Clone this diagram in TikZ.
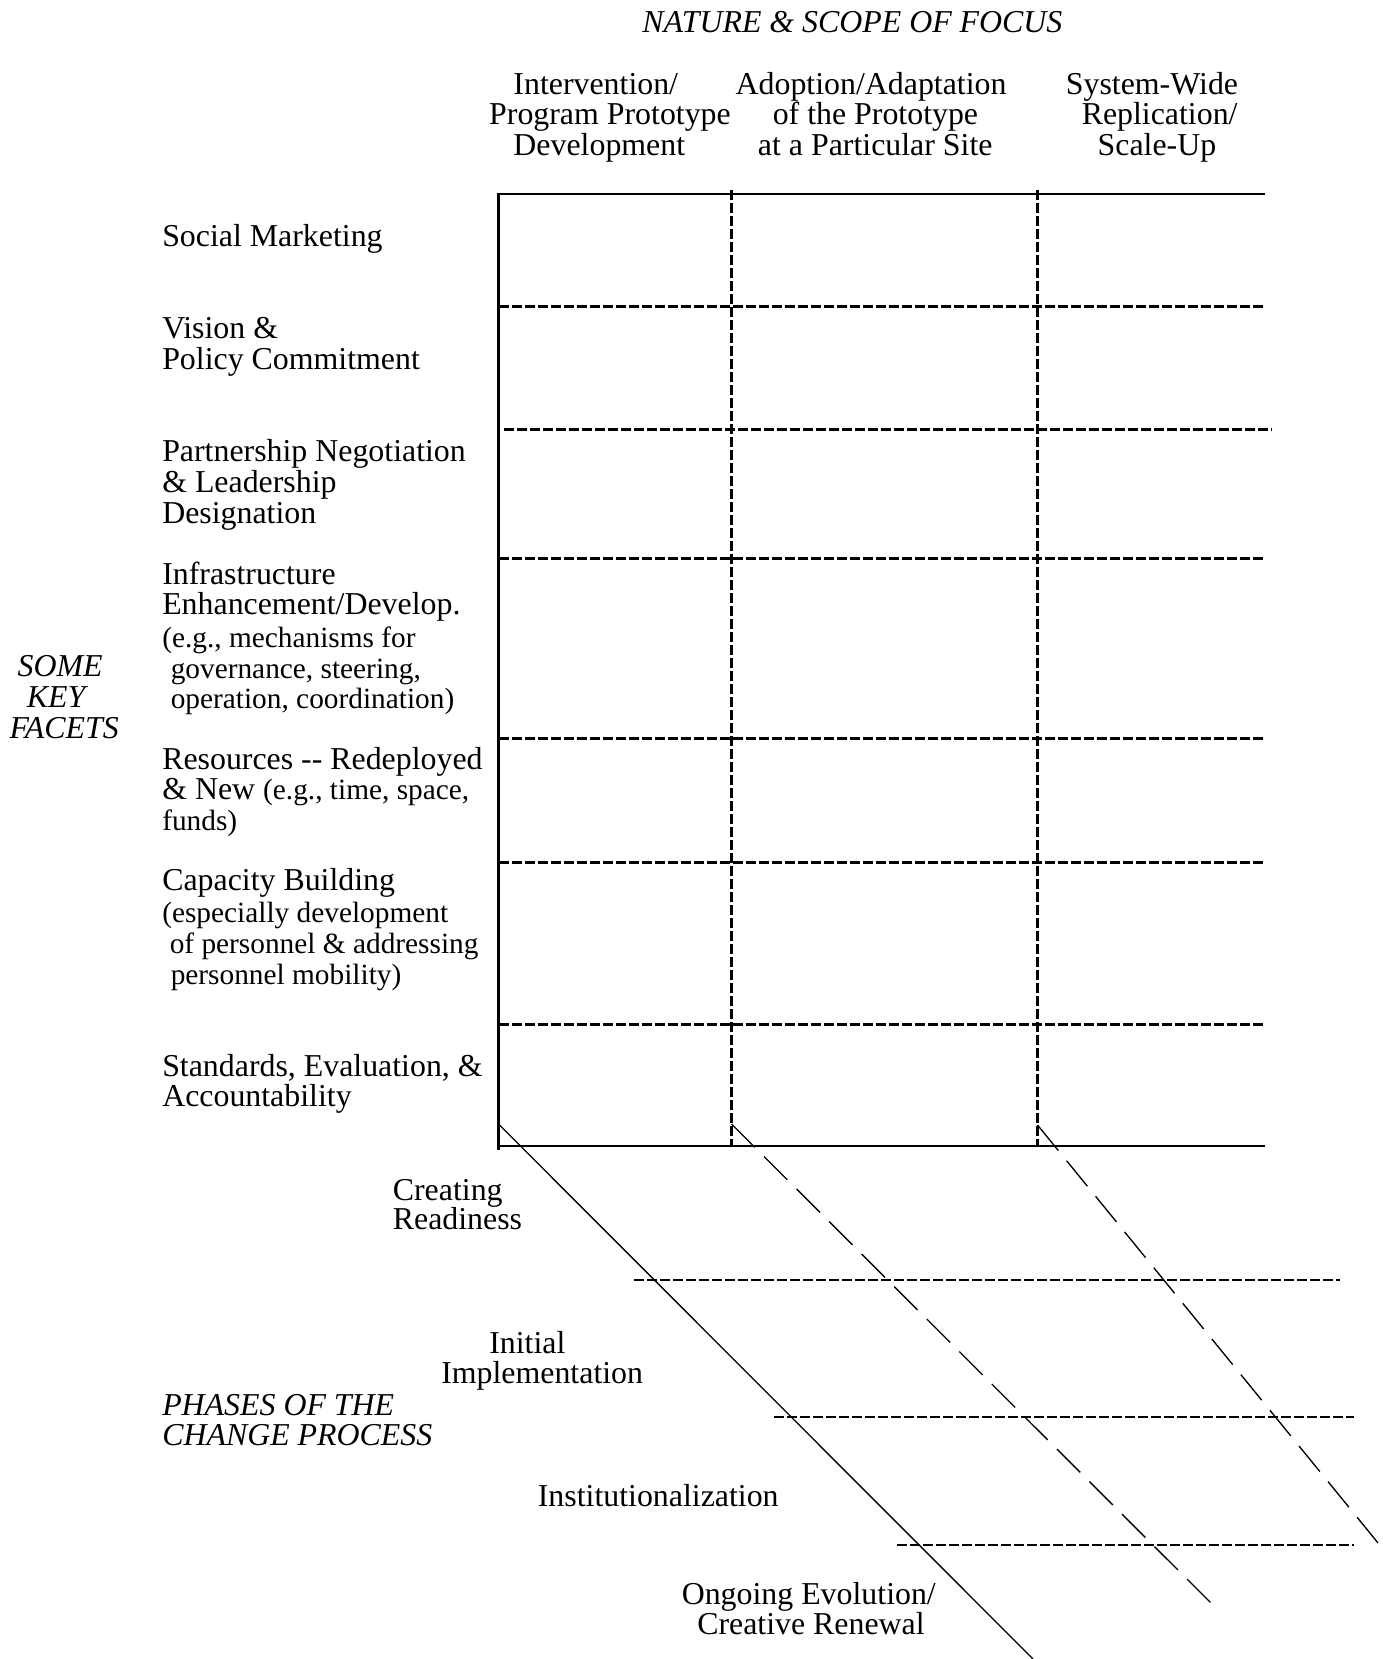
\documentclass[tikz,border=0pt]{standalone}
\usepackage{fontspec}
\setmainfont{Liberation Serif}
\begin{document}
\begin{tikzpicture}[x=0.75pt,y=-0.75pt,
  big/.style={font=\fontsize{23.9}{24}\selectfont, inner sep=0pt, anchor=base west},
  small/.style={font=\fontsize{22}{22}\selectfont, inner sep=0pt, anchor=base west},
  ital/.style={font=\fontsize{23.9}{24}\selectfont\itshape, inner sep=0pt, anchor=base west},
  frame/.style={line width=1.8pt},
  griddash/.style={line width=1.9pt, dash pattern=on 7.5pt off 2.25pt},
  phasedash/.style={line width=1.5pt, dash pattern=on 7.5pt off 2.25pt},
  diagsolid/.style={line width=1pt},
  diagdash/.style={line width=1pt, dash pattern=on 24.75pt off 9.75pt}]
\useasboundingbox (0,0) rectangle (1382,1659);
% frame
\coordinate (TL) at (498.5,194);
\coordinate (TR) at (1265,194);
\coordinate (LB) at (498.5,1150);
\coordinate (BL) at (498.5,1146);
\coordinate (BR) at (1265,1146);
\draw[frame] (TR) -- (TL) -- (LB);
\draw[frame] (BL) -- (BR);
% vertical dashed
\coordinate (V1t) at (731.5,190); \coordinate (V1b) at (731.5,1146);
\coordinate (V2t) at (1037.5,190); \coordinate (V2b) at (1037.5,1146);
\draw[griddash] (V1t) -- (V1b);
\draw[griddash] (V2t) -- (V2b);
% horizontal dashed grid
\foreach \y/\a/\b [count=\i] in {306.5/498.5/1265, 429.5/504/1272, 558.5/498.5/1265, 738.5/498.5/1265, 862.5/498.5/1265, 1024.5/498.5/1265}{
  \coordinate (H\i a) at (\a,\y); \coordinate (H\i b) at (\b,\y);
  \draw[griddash] (H\i a) -- (H\i b);
}
% diagonals
\coordinate (D0s) at (498.5,1124); \coordinate (D0e) at (1033,1659);
\coordinate (D1s) at (731.5,1124); \coordinate (D1e) at (1219,1611);
\coordinate (D2s) at (1037.5,1125); \coordinate (D2e) at (1380.5,1546);
\draw[diagsolid] (D0s) -- (D0e);
\draw[diagdash] (D1s) -- (D1e);
\draw[diagdash] (D2s) -- (D2e);
% phase dashed lines
\coordinate (P1a) at (634,1280); \coordinate (P1b) at (1340,1280);
\coordinate (P2a) at (774,1416.5); \coordinate (P2b) at (1354,1416.5);
\coordinate (P3a) at (897,1544.5); \coordinate (P3b) at (1354,1544.5);
\draw[phasedash] (P1a) -- (P1b);
\draw[phasedash] (P2a) -- (P2b);
\draw[phasedash] (P3a) -- (P3b);
% title
\node[ital] (title) at (642,33) {NATURE \& SCOPE OF FOCUS};
% column headers
\node[big] (c1a) at (513.2,94) {Intervention/};
\node[big] (c1b) at (488.9,124.5) {Program Prototype};
\node[big] (c1c) at (513.2,155) {Development};
\node[big] (c2a) at (735.4,94) {Adoption/Adaptation};
\node[big] (c2b) at (772.5,124.5) {of the Prototype};
\node[big] (c2c) at (757.7,155) {at a Particular Site};
\node[big] (c3a) at (1065.6,94) {System-Wide};
\node[big] (c3b) at (1081.5,124.5) {Replication/};
\node[big] (c3c) at (1097.4,155) {Scale-Up};
% facets
\node[big] (f1) at (162,246) {Social Marketing};
\node[big] (f2a) at (162,338.5) {Vision \&};
\node[big] (f2b) at (162,369.2) {Policy Commitment};
\node[big] (f3a) at (162,461.5) {Partnership Negotiation};
\node[big] (f3b) at (162,492.5) {\& Leadership};
\node[big] (f3c) at (162,523.5) {Designation};
\node[big] (f4a) at (162,584) {Infrastructure};
\node[big] (f4b) at (162,614.5) {Enhancement/Develop.};
\node[small] (f4c) at (162,647.5) {(e.g., mechanisms for};
\node[small] (f4d) at (170.5,678.2) {governance, steering,};
\node[small] (f4e) at (170.5,708.9) {operation, coordination)};
\node[big] (f5a) at (162,769.2) {Resources -{}- Redeployed};
\node[big] (f5b) at (162,799.9) {\& New {\fontsize{22}{22}\selectfont (e.g., time, space,}};
\node[small] (f5c) at (162,830.5) {funds)};
\node[big] (f6a) at (162,890.9) {Capacity Building};
\node[small] (f6b) at (162,922.5) {(especially development};
\node[small] (f6c) at (169.5,953.5) {of personnel \& addressing};
\node[small] (f6d) at (170.5,984) {personnel mobility)};
\node[big] (f7a) at (162,1076.1) {Standards, Evaluation, \&};
\node[big] (f7b) at (162,1106.8) {Accountability};
% side label
\node[ital] (k1) at (17.3,676.6) {SOME};
\node[ital] (k2) at (26.7,707) {KEY};
\node[ital] (k3) at (9.3,738) {FACETS};
% phases
\node[big] (p1a) at (392.6,1200) {Creating};
\node[big] (p1b) at (392.6,1229.6) {Readiness};
\node[big] (p2a) at (489,1353) {Initial};
\node[big] (p2b) at (441,1383.5) {Implementation};
\node[ital] (ph1) at (162,1415) {PHASES OF THE};
\node[ital] (ph2) at (162,1445) {CHANGE PROCESS};
\node[big] (p3) at (537.6,1506) {Institutionalization};
\node[big] (p4a) at (681.5,1604.7) {Ongoing Evolution/};
\node[big] (p4b) at (697,1634) {Creative Renewal};
\end{tikzpicture}
\end{document}
